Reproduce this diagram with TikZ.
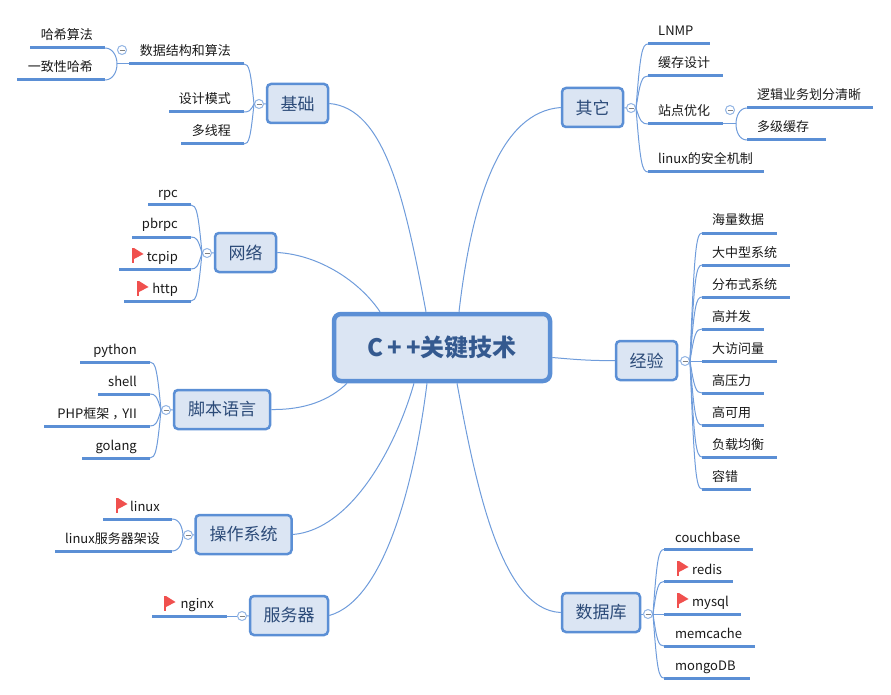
\documentclass[tikz,border=0pt]{standalone}
\usepackage{fontspec}
\setmainfont{Noto Sans CJK SC}
\usetikzlibrary{positioning,calc}
\definecolor{boxblue}{HTML}{5B8FD5}
\definecolor{boxfill}{HTML}{DBE5F3}
\definecolor{linkblue}{HTML}{6F9CDB}
\definecolor{topicink}{HTML}{2B4A78}
\definecolor{coreink}{HTML}{34598F}
\definecolor{flagred}{HTML}{F0504E}
\tikzset{
  core/.style={draw=boxblue,fill=boxfill,line width=4.5pt,rounded corners=7pt,inner sep=0pt,minimum width=216pt,minimum height=67pt,text=coreink,font=\fontsize{24}{24}\selectfont\bfseries},
  topic/.style={draw=boxblue,fill=boxfill,line width=2.5pt,rounded corners=4pt,inner sep=0pt,minimum height=39pt,text=topicink,font=\fontsize{17}{17}\selectfont},
  bar/.style={fill=boxblue,inner sep=0pt,outer sep=0pt,minimum height=3pt},
  leaftext/.style={inner sep=0pt,text height=12pt,text depth=2pt,text=black!90,font=\fontsize{13}{14}\selectfont},
  link/.style={draw=linkblue,line width=1pt},
  branch/.style={to path={let \p1=(\tikztostart),\p2=(\tikztotarget) in
    .. controls ({\x1+0.35*(\x2-\x1)},{\y1+0.85*(\y2-\y1)}) and ({\x1+0.5*(\x2-\x1)},\y2) .. (\tikztotarget)}},
  fold/.style={circle,draw=linkblue!75,fill=white,line width=1pt,inner sep=0pt,minimum size=9pt,
    path picture={\draw[gray,line width=0.8pt] ([xshift=-2.5pt]path picture bounding box.center) -- ([xshift=2.5pt]path picture bounding box.center);}},
  redflag/.pic={\fill[flagred] (0,0) rectangle (2,15); \fill[flagred] (2,0) -- (11.5,6) -- (2,11) -- cycle;}
}
\begin{document}
\begin{tikzpicture}[x=1pt,y=-1pt]
    \useasboundingbox (0,0) rectangle (891,695);
    % centre
    \node[core] (cpp) at (442,347.5) {C\,+\,+关键技术};

    % topics
    \node[topic,minimum width=61pt] (jichu) at (297.5,103.5) {基础};
    \node[topic,minimum width=61pt] (wangluo) at (245.5,252.5) {网络};
    \node[topic,minimum width=96pt] (jiaoben) at (222,409.5) {脚本语言};
    \node[topic,minimum width=96pt] (caozuo) at (243.5,534.5) {操作系统};
    \node[topic,minimum width=78pt] (fuwu) at (289,615.5) {服务器};
    \node[topic,minimum width=61pt] (qita) at (592.5,107.5) {其它};
    \node[topic,minimum width=61pt] (jingyan) at (646.5,360.5) {经验};
    \node[topic,minimum width=78pt] (shuju) at (601,612.5) {数据库};

    % centre to topics
    \draw[link] (jichu.east) .. controls (385,108) and (405,200) .. ([xshift=-16pt]cpp.north);
    \draw[link] (wangluo.east) .. controls (320,255) and (360,282) .. ([xshift=-62pt]cpp.north);
    \draw[link] (jiaoben.east) .. controls (305,410) and (330,400) .. ([xshift=-95pt]cpp.south);
    \draw[link] (caozuo.east) .. controls (350,530) and (395,450) .. ([xshift=-28pt]cpp.south);
    \draw[link] (fuwu.east) .. controls (385,600) and (415,480) .. ([xshift=-15pt]cpp.south);
    \draw[link] (qita.west) .. controls (500,112) and (472,200) .. ([xshift=17pt]cpp.north);
    \draw[link] (jingyan.west) .. controls (590,361) and (570,359) .. ([yshift=-10pt]cpp.east);
    \draw[link] (shuju.west) .. controls (500,610) and (475,480) .. ([xshift=15pt]cpp.south);

    % fold marks
    \node[fold] (jichufold) at (259,104) {};
    \node[fold] (wangluofold) at (207,253) {};
    \node[fold] (jiaobenfold) at (166,410) {};
    \node[fold] (caozuofold) at (188,535) {};
    \node[fold] (fuwufold) at (242,616) {};
    \node[fold] (qitafold) at (631,108) {};
    \node[fold] (jingyanfold) at (685,361) {};
    \node[fold] (shujufold) at (648,614) {};
    \node[fold] (suanfafold) at (122,50) {};
    \node[fold] (zhandianfold) at (730,110) {};
    \draw[link] (jichufold) -- (jichu);
    \draw[link] (wangluofold) -- (wangluo);
    \draw[link] (jiaobenfold) -- (jiaoben);
    \draw[link] (caozuofold) -- (caozuo);
    \draw[link] (fuwufold) -- (fuwu);
    \draw[link] (qitafold) -- (qita);
    \draw[link] (jingyanfold) -- (jingyan);
    \draw[link] (shujufold) -- (shuju.east |- shujufold);

    % basics
    \node[bar,minimum width=115pt] (suanfa) at (186.5,64) {};
    \node[leaftext,left] (suanfatext) at (231,51) {数据结构和算法};
    \node[bar,minimum width=75pt] (sheji) at (206.5,112) {};
    \node[leaftext,left] (shejitext) at (231,99) {设计模式};
    \node[bar,minimum width=63pt] (duoxian) at (212.5,144) {};
    \node[leaftext,left] (duoxiantext) at (231,131) {多线程};
    \node[bar,minimum width=75pt] (hash) at (67.5,48) {};
    \node[leaftext,left] (hashtext) at (93,35) {哈希算法};
    \node[bar,minimum width=88pt] (yizhi) at (61,80) {};
    \node[leaftext,left] (yizhitext) at (93,67) {一致性哈希};
    \coordinate (suanfahub) at (117,64);
    \draw[link] (jichufold.west) to[branch] (suanfa.east);
    \draw[link] (jichufold.west) to[branch] (sheji.east);
    \draw[link] (jichufold.west) to[branch] (duoxian.east);
    \draw[link] (suanfa.west) -- (suanfahub);
    \draw[link] (suanfahub) to[out=90,in=0] (hash.east);
    \draw[link] (suanfahub) to[out=-90,in=0] (yizhi.east);

    % network
    \node[bar,minimum width=43pt] (rpc) at (169.5,205) {};
    \node[leaftext,left] (rpctext) at (178,192) {rpc};
    \node[bar,minimum width=59pt] (pbrpc) at (161.5,237) {};
    \node[leaftext,left] (pbrpctext) at (178,224) {pbrpc};
    \node[bar,minimum width=72pt] (tcpip) at (155,269) {};
    \node[leaftext,left] (tcpiptext) at (178,256) {tcpip};
    \node[bar,minimum width=67pt] (http) at (157.5,301) {};
    \node[leaftext,left] (httptext) at (178,288) {http};
    \pic at (132,248) {redflag};
    \pic at (137,281) {redflag};
    \draw[link] (wangluofold.west) to[branch] (rpc.east);
    \draw[link] (wangluofold.west) to[branch] (pbrpc.east);
    \draw[link] (wangluofold.west) to[branch] (tcpip.east);
    \draw[link] (wangluofold.west) to[branch] (http.east);

    % scripts
    \node[bar,minimum width=70pt] (python) at (115,362) {};
    \node[leaftext,left] (pythontext) at (137,349) {python};
    \node[bar,minimum width=52pt] (shell) at (124,394) {};
    \node[leaftext,left] (shelltext) at (137,381) {shell};
    \node[bar,minimum width=106pt] (php) at (97,426) {};
    \node[leaftext,left] (phptext) at (137,413) {PHP框架\kern3pt，\kern-3pt YII};
    \node[bar,minimum width=68pt] (golang) at (116,458) {};
    \node[leaftext,left] (golangtext) at (137,445) {golang};
    \draw[link] (jiaobenfold.west) to[branch] (python.east);
    \draw[link] (jiaobenfold.west) to[branch] (shell.east);
    \draw[link] (jiaobenfold.west) to[branch] (php.east);
    \draw[link] (jiaobenfold.west) to[branch] (golang.east);

    % systems
    \node[bar,minimum width=69pt] (linux) at (137.5,519) {};
    \node[leaftext,left] (linuxtext) at (160,506) {linux};
    \node[bar,minimum width=117pt] (jiashe) at (113.5,551) {};
    \node[leaftext,left] (jiashetext) at (160,538) {linux服务器架设};
    \pic at (116,498) {redflag};
    \draw[link] (caozuofold.west) to[out=95,in=0] (linux.east);
    \draw[link] (caozuofold.west) to[out=-95,in=0] (jiashe.east);

    % servers
    \node[bar,minimum width=75pt] (nginx) at (189.5,616) {};
    \node[leaftext,left] (nginxtext) at (214,603) {nginx};
    \pic at (164,596) {redflag};
    \draw[link] (fuwufold) -- (nginx);

    % others
    \node[bar,minimum width=62pt] (lnmp) at (679,44) {};
    \node[leaftext,right] (lnmptext) at (658,31) {LNMP};
    \node[bar,minimum width=75pt] (huancun) at (685.5,76) {};
    \node[leaftext,right] (huancuntext) at (658,63) {缓存设计};
    \node[bar,minimum width=75pt] (zhandian) at (685.5,124) {};
    \node[leaftext,right] (zhandiantext) at (658,111) {站点优化};
    \node[bar,minimum width=116pt] (anquan) at (706,172) {};
    \node[leaftext,right] (anquantext) at (658,159) {linux的安全机制};
    \node[bar,minimum width=126pt] (luoji) at (810,108) {};
    \node[leaftext,right] (luojitext) at (757,95) {逻辑业务划分清晰};
    \node[bar,minimum width=79pt] (duoji) at (786.5,140) {};
    \node[leaftext,right] (duojitext) at (757,127) {多级缓存};
    \coordinate (zhandianhub) at (736,124);
    \draw[link] (qitafold.east) to[branch] (lnmp.west);
    \draw[link] (qitafold.east) to[branch] (huancun.west);
    \draw[link] (qitafold.east) to[branch] (zhandian.west);
    \draw[link] (qitafold.east) to[branch] (anquan.west);
    \draw[link] (zhandian.east) -- (zhandianhub);
    \draw[link] (zhandianhub) to[out=90,in=180] (luoji.west);
    \draw[link] (zhandianhub) to[out=-90,in=180] (duoji.west);

    % experience
    \node[bar,minimum width=75pt] (haiyang) at (739.5,233) {};
    \node[leaftext,right] (haiyangtext) at (712,220) {海量数据};
    \node[bar,minimum width=88pt] (daxing) at (746,265) {};
    \node[leaftext,right] (daxingtext) at (712,252) {大中型系统};
    \node[bar,minimum width=88pt] (fenbu) at (746,297) {};
    \node[leaftext,right] (fenbutext) at (712,284) {分布式系统};
    \node[bar,minimum width=62pt] (gaobing) at (733,329) {};
    \node[leaftext,right] (gaobingtext) at (712,316) {高并发};
    \node[bar,minimum width=75pt] (fangwen) at (739.5,361) {};
    \node[leaftext,right] (fangwentext) at (712,348) {大访问量};
    \node[bar,minimum width=62pt] (yali) at (733,393) {};
    \node[leaftext,right] (yalitext) at (712,380) {高压力};
    \node[bar,minimum width=62pt] (keyong) at (733,425) {};
    \node[leaftext,right] (keyongtext) at (712,412) {高可用};
    \node[bar,minimum width=75pt] (fuzai) at (739.5,457) {};
    \node[leaftext,right] (fuzaitext) at (712,444) {负载均衡};
    \node[bar,minimum width=49pt] (rongcuo) at (726.5,489) {};
    \node[leaftext,right] (rongcuotext) at (712,476) {容错};
    \draw[link] (jingyanfold.east) to[branch] (haiyang.west);
    \draw[link] (jingyanfold.east) to[branch] (daxing.west);
    \draw[link] (jingyanfold.east) to[branch] (fenbu.west);
    \draw[link] (jingyanfold.east) to[branch] (gaobing.west);
    \draw[link] (jingyanfold.east) -- (fangwen.west);
    \draw[link] (jingyanfold.east) to[branch] (yali.west);
    \draw[link] (jingyanfold.east) to[branch] (keyong.west);
    \draw[link] (jingyanfold.east) to[branch] (fuzai.west);
    \draw[link] (jingyanfold.east) to[branch] (rongcuo.west);

    % databases
    \node[bar,minimum width=89pt] (couch) at (708.5,549.5) {};
    \node[leaftext,right] (couchtext) at (675,537) {couchbase};
    \node[bar,minimum width=69pt] (redis) at (698.5,581.5) {};
    \node[leaftext,right] (redistext) at (692,569) {redis};
    \node[bar,minimum width=77pt] (mysql) at (702.5,614) {};
    \node[leaftext,right] (mysqltext) at (692,601) {mysql};
    \node[bar,minimum width=91pt] (memcache) at (709.5,646) {};
    \node[leaftext,right] (memcachetext) at (675,633) {memcache};
    \node[bar,minimum width=86pt] (mongo) at (707,678) {};
    \node[leaftext,right] (mongotext) at (675,665) {mongoDB};
    \pic at (677,561) {redflag};
    \pic at (677,593) {redflag};
    \draw[link] (shujufold.east) to[branch] (couch.west);
    \draw[link] (shujufold.east) to[branch] (redis.west);
    \draw[link] (shujufold.east) -- (mysql.west);
    \draw[link] (shujufold.east) to[branch] (memcache.west);
    \draw[link] (shujufold.east) to[branch] (mongo.west);
\end{tikzpicture}
\end{document}
